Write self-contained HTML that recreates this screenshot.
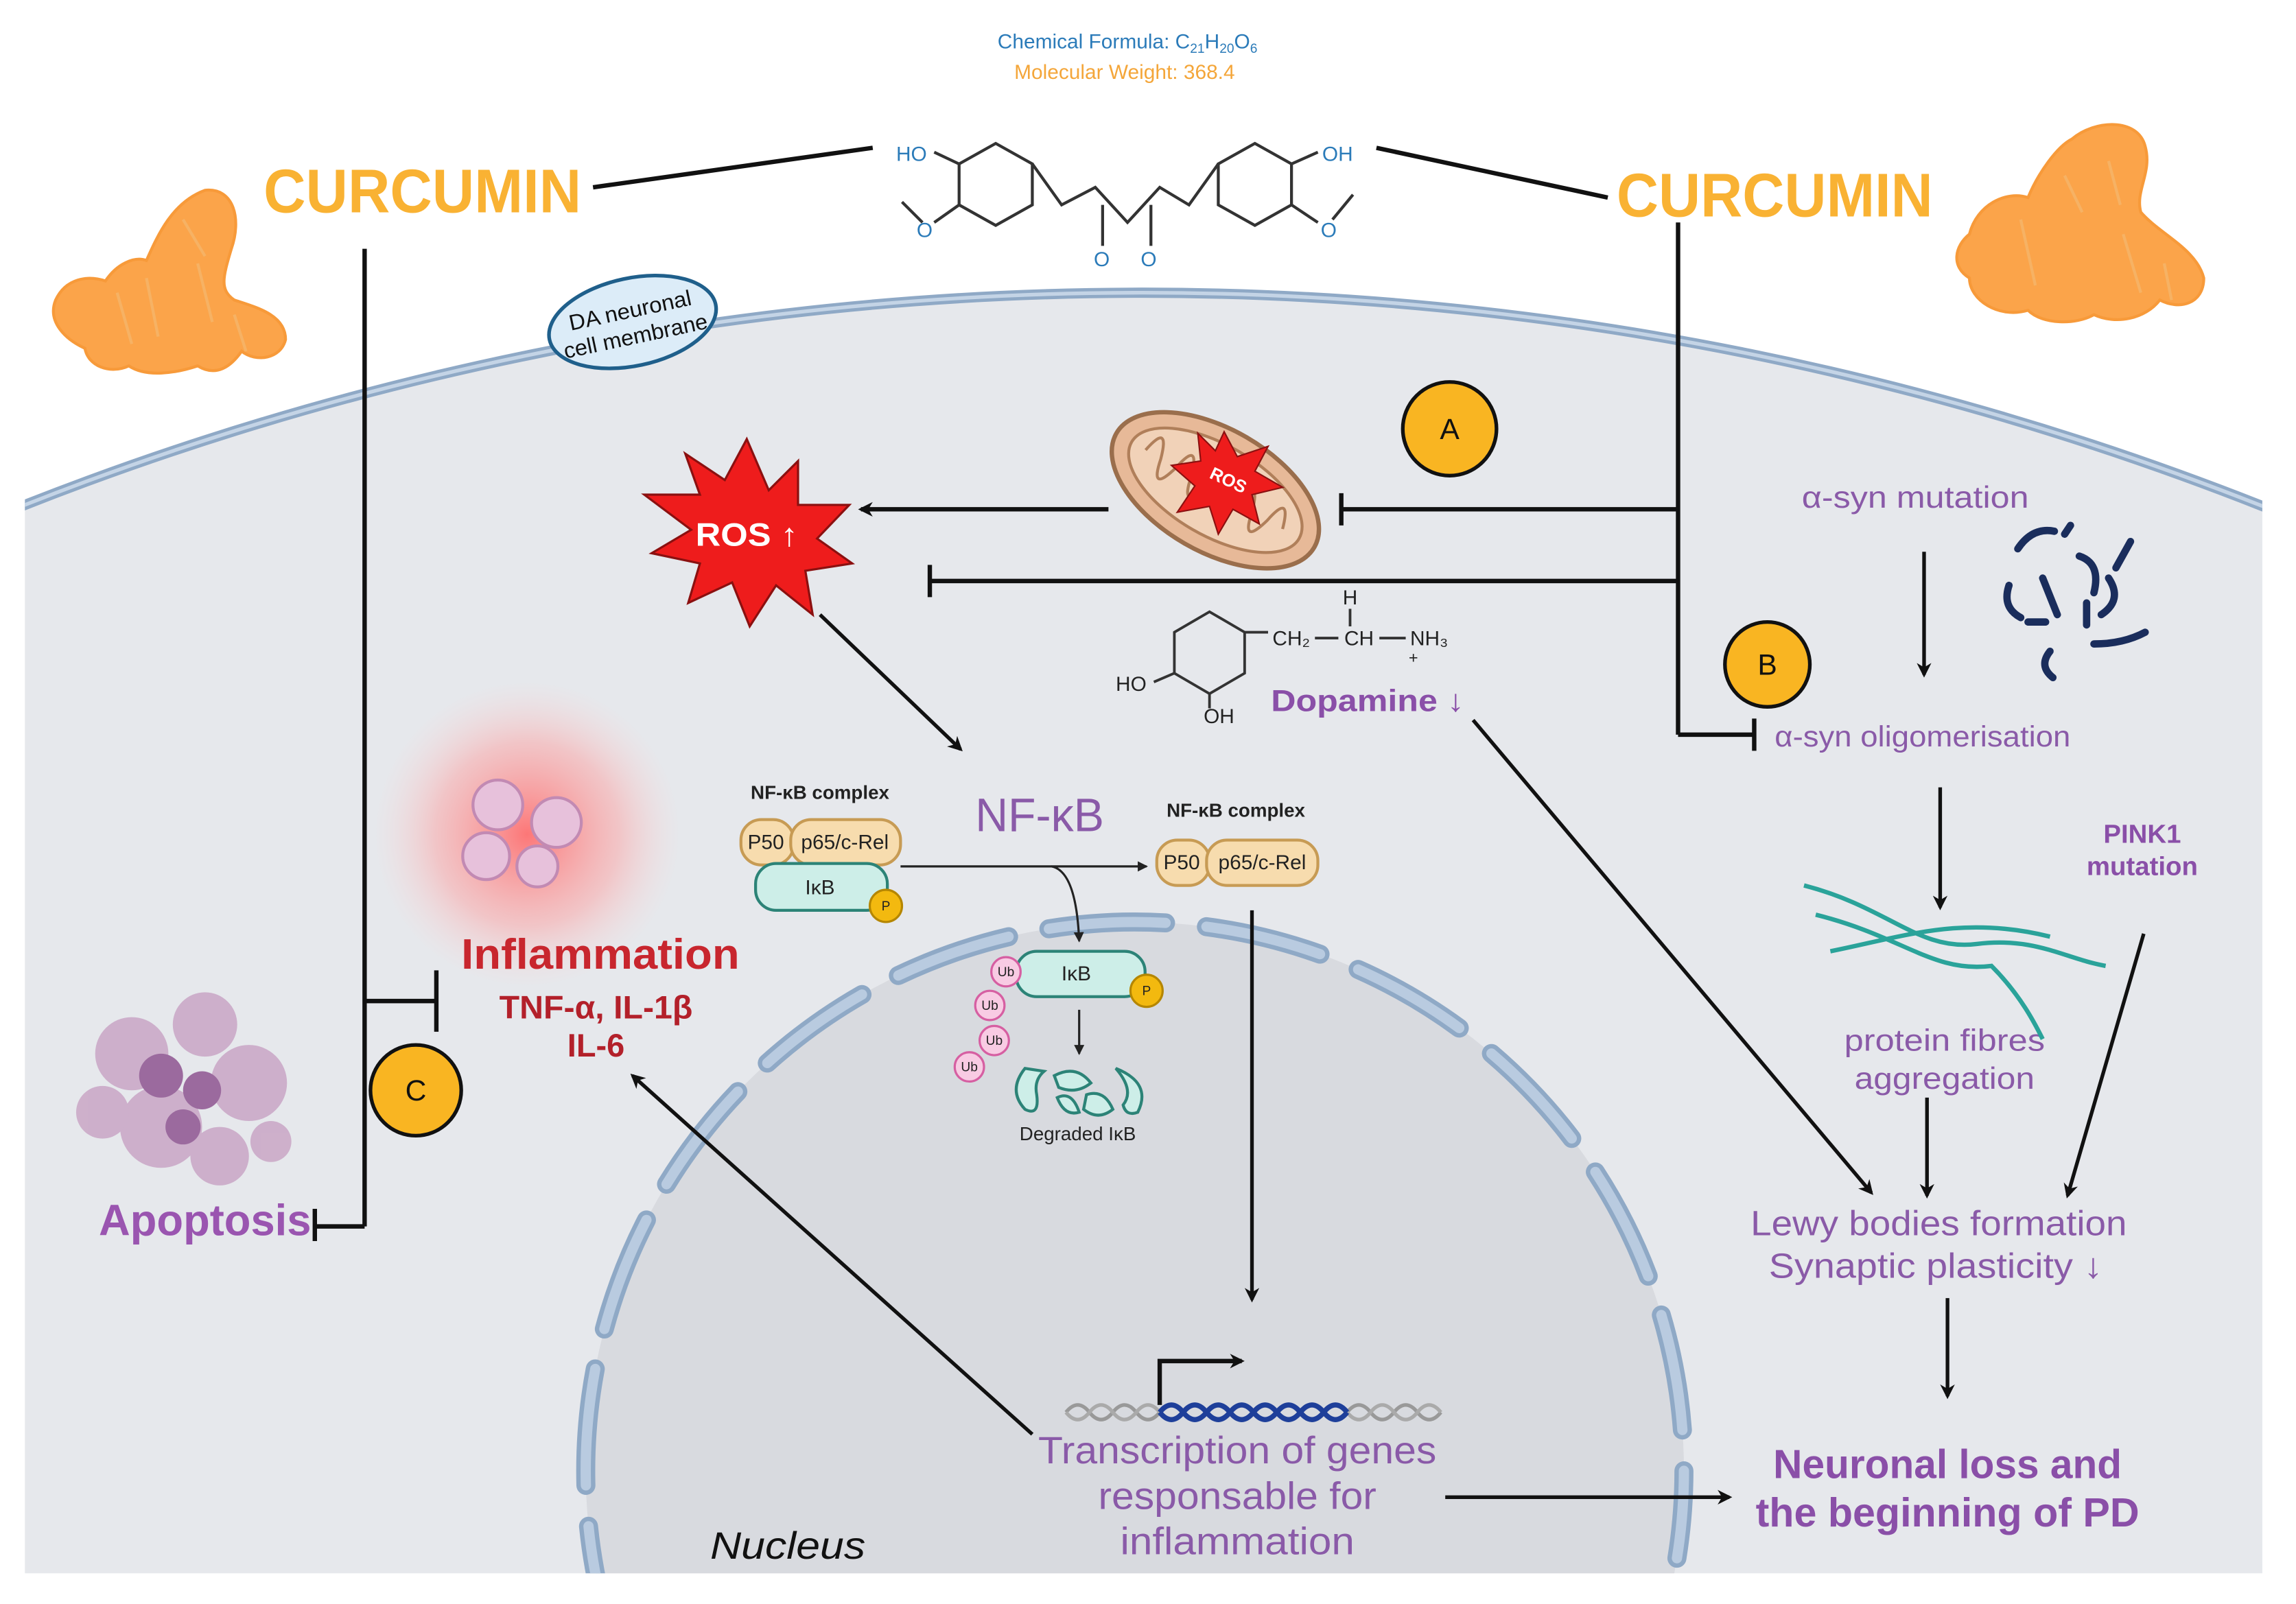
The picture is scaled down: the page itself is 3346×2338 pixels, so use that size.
<!DOCTYPE html>
<html><head><meta charset="utf-8">
<style>
html,body{margin:0;padding:0;background:#fff;width:3346px;height:2338px;overflow:hidden}
svg{display:block}
text{font-family:"Liberation Sans Narrow","Liberation Sans",sans-serif}
</style></head><body>
<svg width="3346" height="2338" viewBox="0 0 1568 1096" preserveAspectRatio="none" xmlns="http://www.w3.org/2000/svg">
<defs>
<clipPath id="cell"><rect x="17" y="0" width="1528" height="1075"/></clipPath>
<radialGradient id="glow"><stop offset="0" stop-color="#ff6a6a" stop-opacity="0.9"/><stop offset="0.6" stop-color="#ff9a9a" stop-opacity="0.45"/><stop offset="1" stop-color="#ffd0d0" stop-opacity="0"/></radialGradient>
<marker id="ar" markerWidth="10" markerHeight="10" refX="8" refY="5" orient="auto" markerUnits="userSpaceOnUse"><path d="M0,0 L10,5 L0,10 L3,5 z" fill="#111"/></marker>
<marker id="ars" markerWidth="7" markerHeight="7" refX="6" refY="3.5" orient="auto" markerUnits="userSpaceOnUse"><path d="M0,0 L7,3.5 L0,7 z" fill="#222"/></marker>
</defs>
<rect width="1568" height="1096" fill="#fff"/>
<g clip-path="url(#cell)">
<circle cx="780" cy="2280" r="2080" fill="#e6e8ec" stroke="#8fa9c6" stroke-width="7"/>
<circle cx="780" cy="2280" r="2080" fill="none" stroke="#c4d4e6" stroke-width="2.5"/>
<circle cx="775" cy="1005" r="375" fill="#d8dadf"/>
<circle cx="775" cy="1005" r="375" fill="none" stroke="#8fa9c6" stroke-width="13" stroke-dasharray="80 28" stroke-linecap="round" stroke-dashoffset="20"/>
<circle cx="775" cy="1005" r="375" fill="none" stroke="#b9cbe0" stroke-width="7" stroke-dasharray="80 28" stroke-linecap="round" stroke-dashoffset="20"/>
</g>
<!-- top formula -->
<text x="770" y="33" font-size="14" fill="#2b7bb9" text-anchor="middle">Chemical Formula: C<tspan font-size="9" dy="3">21</tspan><tspan dy="-3">H</tspan><tspan font-size="9" dy="3">20</tspan><tspan dy="-3">O</tspan><tspan font-size="9" dy="3">6</tspan></text>
<text x="768" y="54" font-size="14" fill="#f4a63a" text-anchor="middle">Molecular Weight: 368.4</text>
<!-- CURCUMIN -->
<text x="180" y="145" font-size="42" font-weight="bold" fill="#f9b233" textLength="217" lengthAdjust="spacingAndGlyphs">CURCUMIN</text>
<text x="1104" y="148" font-size="42" font-weight="bold" fill="#f9b233" textLength="216" lengthAdjust="spacingAndGlyphs">CURCUMIN</text>
<g stroke="#111" stroke-width="3" fill="none">
<line x1="405" y1="128" x2="596" y2="101"/>
<line x1="940" y1="101" x2="1098" y2="135"/>
<line x1="249" y1="170" x2="249" y2="838"/>
<line x1="249" y1="838" x2="215" y2="838"/><line x1="215" y1="826" x2="215" y2="848"/>
<line x1="249" y1="684" x2="298" y2="684"/><line x1="298" y1="663" x2="298" y2="705"/>
<line x1="1146" y1="152" x2="1146" y2="502"/>
<line x1="1146" y1="348" x2="916" y2="348"/><line x1="916" y1="337" x2="916" y2="359"/>
<line x1="1146" y1="397" x2="635" y2="397"/><line x1="635" y1="386" x2="635" y2="408"/>
<line x1="1146" y1="502" x2="1198" y2="502"/><line x1="1198" y1="491" x2="1198" y2="513"/>
</g>
<!-- curcumin molecule -->
<g stroke="#333" stroke-width="2" fill="none">
<polygon points="655,112 680,98 705,112 705,140 680,154 655,140"/>
<polygon points="832,112 857,98 882,112 882,140 857,154 832,140"/>
<polyline points="705,112 725,140 748,128 770,152 792,128 812,140 832,112"/>
<line x1="753" y1="140" x2="753" y2="168"/><line x1="786" y1="140" x2="786" y2="168"/>
<line x1="655" y1="112" x2="638" y2="104"/><line x1="882" y1="112" x2="900" y2="104"/>
<line x1="655" y1="140" x2="638" y2="152"/><line x1="616" y1="138" x2="630" y2="152"/>
<line x1="882" y1="140" x2="900" y2="152"/><line x1="924" y1="133" x2="910" y2="150"/>
</g>
<g font-size="14" fill="#2b7bb9"><text x="612" y="110">HO</text><text x="903" y="110">OH</text><text x="626" y="162">O</text><text x="902" y="162">O</text><text x="747" y="182">O</text><text x="779" y="182">O</text></g>
<!-- turmeric roots -->
<g fill="#fba44a" stroke="#f79a3a" stroke-width="2">
<path d="M38,205 C45,190 60,188 72,192 C80,180 92,175 100,178 C108,160 118,138 140,130 C160,128 165,150 158,170 C152,190 150,198 160,205 C175,210 195,215 195,232 C192,245 175,248 165,240 C158,250 148,258 135,250 C120,255 100,258 88,250 C75,256 60,250 58,238 C45,232 32,220 38,205 z"/>
<path d="M1345,160 C1350,140 1370,130 1385,135 C1392,118 1405,100 1415,95 C1430,82 1460,80 1465,100 C1470,118 1458,130 1462,145 C1475,160 1500,170 1505,190 C1505,208 1488,212 1475,205 C1465,218 1445,222 1430,215 C1418,222 1395,222 1385,212 C1365,218 1345,205 1345,190 C1332,182 1335,168 1345,160 z"/>
</g>
<g stroke="#f5b56a" stroke-width="2" fill="none" opacity="0.8">
<path d="M80,200 l10,35 M100,190 l8,40 M125,150 l15,25 M135,180 l10,40 M160,215 l8,25"/>
<path d="M1380,150 l10,45 M1410,120 l12,25 M1440,110 l8,30 M1450,160 l12,40 M1478,180 l5,25"/>
</g>
<!-- membrane label -->
<ellipse cx="432" cy="220" rx="58" ry="30" fill="#dcecf8" stroke="#1f5f8b" stroke-width="2.5" transform="rotate(-12 432 220)"/>
<text x="432" y="217" font-size="15" text-anchor="middle" fill="#111" transform="rotate(-12 432 220)" textLength="85" lengthAdjust="spacingAndGlyphs">DA neuronal</text>
<text x="432" y="235" font-size="15" text-anchor="middle" fill="#111" transform="rotate(-12 432 220)" textLength="100" lengthAdjust="spacingAndGlyphs">cell membrane</text>
<!-- ROS star -->
<polygon points="510,300 525,335 545,315 545,345 580,345 558,368 582,385 550,390 555,420 530,400 512,428 500,398 470,412 478,385 445,378 472,362 440,338 478,338 468,310 495,328" fill="#ee1c1c" stroke="#8b1010" stroke-width="1.5"/>
<text x="510" y="373" font-size="22" font-weight="bold" fill="#fff" text-anchor="middle" textLength="70" lengthAdjust="spacingAndGlyphs">ROS ↑</text>
<!-- mitochondrion -->
<g transform="rotate(30 830 335)">
<ellipse cx="830" cy="335" rx="78" ry="42" fill="#e7b998" stroke="#9a6e4c" stroke-width="3"/>
<ellipse cx="830" cy="335" rx="66" ry="31" fill="#f1d2b8" stroke="#b07f5a" stroke-width="2"/>
<path d="M775,335 q5,-25 12,0 q5,25 12,0 q5,-25 12,0 q5,25 12,0 q5,-25 12,0 q5,25 12,0 q5,-25 12,0 q5,25 12,0 q5,-25 12,0" fill="none" stroke="#b07f5a" stroke-width="2"/>
</g>
<polygon points="836,295 845,312 866,305 857,322 876,333 855,338 860,358 842,348 832,365 826,346 804,350 816,332 800,318 820,315 818,296 830,308" fill="#ee1c1c" stroke="#8b1010"/>
<text x="838" y="332" font-size="12" font-weight="bold" fill="#fff" text-anchor="middle" transform="rotate(25 838 330)">ROS</text>
<line x1="757" y1="348" x2="588" y2="348" stroke="#111" stroke-width="3" marker-end="url(#ar)"/>
<!-- circles A B C -->
<g stroke="#111" stroke-width="2.5" fill="#f9b522"><circle cx="990" cy="293" r="32"/><circle cx="1207" cy="454" r="29"/><circle cx="284" cy="745" r="31"/></g>
<g font-size="20" text-anchor="middle" fill="#111"><text x="990" y="300">A</text><text x="1207" y="461">B</text><text x="284" y="752">C</text></g>
<!-- dopamine -->
<g stroke="#333" stroke-width="1.8" fill="none">
<polygon points="802,432 826,418 850,432 850,460 826,474 802,460"/>
<line x1="850" y1="432" x2="866" y2="432"/><line x1="802" y1="460" x2="788" y2="466"/><line x1="826" y1="474" x2="826" y2="484"/>
<line x1="898" y1="436" x2="914" y2="436"/><line x1="942" y1="436" x2="960" y2="436"/><line x1="922" y1="416" x2="922" y2="428"/>
</g>
<g font-size="14" fill="#222"><text x="869" y="441">CH₂</text><text x="918" y="441">CH</text><text x="963" y="441">NH₃</text><text x="917" y="413">H</text><text x="962" y="453" font-size="11">+</text><text x="762" y="472">HO</text><text x="822" y="494">OH</text></g>
<text x="868" y="486" font-size="21" font-weight="bold" fill="#8a4fa8" textLength="132" lengthAdjust="spacingAndGlyphs">Dopamine ↓</text>
<!-- arrows -->
<g stroke="#111" stroke-width="2.5" fill="none" marker-end="url(#ar)">
<line x1="560" y1="420" x2="656" y2="512"/>
<line x1="1006" y1="492" x2="1278" y2="815"/>
<line x1="855" y1="622" x2="855" y2="888"/>
<line x1="705" y1="980" x2="432" y2="735"/>
<line x1="987" y1="1023" x2="1181" y2="1023"/>
<line x1="1314" y1="377" x2="1314" y2="461"/>
<line x1="1325" y1="538" x2="1325" y2="620"/>
<line x1="1316" y1="750" x2="1316" y2="817"/>
<line x1="1464" y1="638" x2="1412" y2="817"/>
<line x1="1330" y1="887" x2="1330" y2="954"/>
</g>
<!-- right side text -->
<text x="1308" y="347" font-size="21" fill="#8a5aa8" text-anchor="middle" textLength="155" lengthAdjust="spacingAndGlyphs">α-syn mutation</text>
<text x="1313" y="510" font-size="20" fill="#8a5aa8" text-anchor="middle" textLength="202" lengthAdjust="spacingAndGlyphs">α-syn oligomerisation</text>
<text x="1463" y="576" font-size="18" font-weight="bold" fill="#8a4fa8" text-anchor="middle">PINK1</text>
<text x="1463" y="598" font-size="18" font-weight="bold" fill="#8a4fa8" text-anchor="middle">mutation</text>
<text x="1328" y="718" font-size="21" fill="#8a5aa8" text-anchor="middle" textLength="137" lengthAdjust="spacingAndGlyphs">protein fibres</text>
<text x="1328" y="744" font-size="21" fill="#8a5aa8" text-anchor="middle" textLength="123" lengthAdjust="spacingAndGlyphs">aggregation</text>
<text x="1324" y="844" font-size="24" fill="#8a5aa8" text-anchor="middle" textLength="257" lengthAdjust="spacingAndGlyphs">Lewy bodies formation</text>
<text x="1322" y="873" font-size="24" fill="#8a5aa8" text-anchor="middle" textLength="228" lengthAdjust="spacingAndGlyphs">Synaptic plasticity ↓</text>
<text x="1330" y="1010" font-size="28" font-weight="bold" fill="#8a4fa8" text-anchor="middle" textLength="238" lengthAdjust="spacingAndGlyphs">Neuronal loss and</text>
<text x="1330" y="1043" font-size="28" font-weight="bold" fill="#8a4fa8" text-anchor="middle" textLength="262" lengthAdjust="spacingAndGlyphs">the beginning of PD</text>
<!-- alpha-syn squiggles -->
<g stroke="#1a2d5c" stroke-width="5" fill="none" stroke-linecap="round">
<path d="M1378,375 q10,-15 25,-12"/><path d="M1372,400 q-5,15 8,22"/><path d="M1395,395 l10,25"/><path d="M1420,380 q15,5 10,25"/><path d="M1440,395 q10,15 -5,25"/><path d="M1455,370 l-10,18"/><path d="M1430,440 q20,0 35,-8"/><path d="M1400,445 q-8,10 2,18"/><path d="M1385,425 l12,0"/><path d="M1410,365 l4,-6"/><path d="M1425,412 l0,15"/>
</g>
<!-- fibres -->
<g stroke="#2aa39a" stroke-width="3" fill="none">
<path d="M1232,605 C1290,620 1310,650 1350,645 C1390,640 1410,655 1438,660"/>
<path d="M1240,625 C1300,640 1320,665 1360,660 C1380,680 1390,700 1395,710"/>
<path d="M1250,650 C1300,640 1340,625 1400,640"/>
</g>
<!-- inflammation -->
<circle cx="360" cy="570" r="105" fill="url(#glow)"/>
<g stroke="#c28ab3" stroke-width="2" fill="#e7c1db"><circle cx="340" cy="550" r="17"/><circle cx="380" cy="562" r="17"/><circle cx="332" cy="585" r="16"/><circle cx="367" cy="592" r="14"/></g>
<text x="410" y="662" font-size="29" font-weight="bold" fill="#c8262e" text-anchor="middle" textLength="190" lengthAdjust="spacingAndGlyphs">Inflammation</text>
<text x="407" y="696" font-size="22" font-weight="bold" fill="#b3202a" text-anchor="middle" textLength="132" lengthAdjust="spacingAndGlyphs">TNF-α, IL-1β</text>
<text x="407" y="722" font-size="22" font-weight="bold" fill="#b3202a" text-anchor="middle">IL-6</text>
<!-- apoptosis -->
<g fill="#c9a6c6" opacity="0.85"><circle cx="90" cy="720" r="25"/><circle cx="140" cy="700" r="22"/><circle cx="170" cy="740" r="26"/><circle cx="110" cy="770" r="28"/><circle cx="70" cy="760" r="18"/><circle cx="150" cy="790" r="20"/><circle cx="185" cy="780" r="14"/></g>
<g fill="#9b6a9e"><circle cx="110" cy="735" r="15"/><circle cx="138" cy="745" r="13"/><circle cx="125" cy="770" r="12"/></g>
<text x="140" y="844" font-size="30" font-weight="bold" fill="#9a55b0" text-anchor="middle" textLength="145" lengthAdjust="spacingAndGlyphs">Apoptosis</text>
<!-- NF-kB -->
<text x="560" y="546" font-size="13" font-weight="bold" fill="#222" text-anchor="middle">NF-κB complex</text>
<text x="844" y="558" font-size="13" font-weight="bold" fill="#222" text-anchor="middle">NF-κB complex</text>
<text x="710" y="568" font-size="32" fill="#8a5aa8" text-anchor="middle" textLength="88" lengthAdjust="spacingAndGlyphs">NF-κB</text>
<g stroke="#c79b54" stroke-width="2" fill="#f7dcae">
<rect x="506" y="560" width="36" height="31" rx="14"/><rect x="540" y="560" width="75" height="31" rx="14"/>
<rect x="790" y="574" width="36" height="31" rx="14"/><rect x="824" y="574" width="76" height="31" rx="14"/>
</g>
<g stroke="#2c8377" stroke-width="2" fill="#cdeee8"><rect x="516" y="590" width="90" height="32" rx="14"/><rect x="694" y="650" width="88" height="31" rx="14"/></g>
<g stroke="#b58600" stroke-width="1.5" fill="#f3b90f"><circle cx="605" cy="619" r="11"/><circle cx="783" cy="677" r="11"/></g>
<g font-size="14" fill="#222" text-anchor="middle"><text x="523" y="580">P50</text><text x="577" y="580">p65/c-Rel</text><text x="807" y="594">P50</text><text x="862" y="594">p65/c-Rel</text><text x="560" y="611">IκB</text><text x="735" y="670">IκB</text><text x="736" y="779" font-size="13">Degraded IκB</text></g>
<g font-size="9" fill="#222" text-anchor="middle"><text x="605" y="622">P</text><text x="783" y="680">P</text></g>
<g stroke="#d65fa2" stroke-width="1.5" fill="#f8cbe3"><circle cx="687" cy="664" r="10"/><circle cx="676" cy="687" r="10"/><circle cx="679" cy="711" r="10"/><circle cx="662" cy="729" r="10"/></g>
<g font-size="9" fill="#222" text-anchor="middle"><text x="687" y="667">Ub</text><text x="676" y="690">Ub</text><text x="679" y="714">Ub</text><text x="662" y="732">Ub</text></g>
<line x1="615" y1="592" x2="783" y2="592" stroke="#222" stroke-width="1.5" marker-end="url(#ars)"/>
<path d="M718,592 Q735,595 737,643" stroke="#222" stroke-width="1.5" fill="none" marker-end="url(#ars)"/>
<line x1="737" y1="690" x2="737" y2="720" stroke="#222" stroke-width="1.5" marker-end="url(#ars)"/>
<g stroke="#2c8377" stroke-width="2" fill="#cdeee8"><path d="M700,730 q-12,15 0,28 q10,5 8,-10 q-2,-10 5,-16 z"/><path d="M720,735 q15,-8 25,5 q-10,8 -22,3 z"/><path d="M722,750 q10,-5 15,10 q-10,3 -15,-10 z"/><path d="M742,748 q12,-4 18,10 q-10,8 -20,0 z"/><path d="M762,730 q25,10 15,30 q-8,3 -10,-5 q8,-10 -5,-25 z"/></g>
<!-- DNA -->
<path d="M728,965 q8,-10 16,0 t16,0 t16,0 t16,0 t16,0 t16,0 t16,0 t16,0 t16,0 t16,0 t16,0 t16,0 t16,0 t16,0 t16,0 t16,0" fill="none" stroke="#999" stroke-width="2.5"/>
<path d="M728,965 q8,10 16,0 t16,0 t16,0 t16,0 t16,0 t16,0 t16,0 t16,0 t16,0 t16,0 t16,0 t16,0 t16,0 t16,0 t16,0 t16,0" fill="none" stroke="#aaa" stroke-width="2.5"/>
<path d="M792,965 q8,-10 16,0 t16,0 t16,0 t16,0 t16,0 t16,0 t16,0 t16,0" fill="none" stroke="#1e3f9a" stroke-width="3.5"/>
<path d="M792,965 q8,10 16,0 t16,0 t16,0 t16,0 t16,0 t16,0 t16,0 t16,0" fill="none" stroke="#1e3f9a" stroke-width="3.5"/>
<polyline points="792,960 792,930 848,930" fill="none" stroke="#111" stroke-width="3" marker-end="url(#ar)"/>
<g font-size="26" fill="#8a5aa8" text-anchor="middle"><text x="845" y="1000" textLength="272" lengthAdjust="spacingAndGlyphs">Transcription of genes</text><text x="845" y="1031" textLength="190" lengthAdjust="spacingAndGlyphs">responsable for</text><text x="845" y="1062" textLength="160" lengthAdjust="spacingAndGlyphs">inflammation</text></g>
<text x="538" y="1065" font-size="26" font-style="italic" fill="#111" text-anchor="middle" font-family="Liberation Sans,sans-serif" textLength="106" lengthAdjust="spacingAndGlyphs">Nucleus</text>
</svg>
</body></html>
